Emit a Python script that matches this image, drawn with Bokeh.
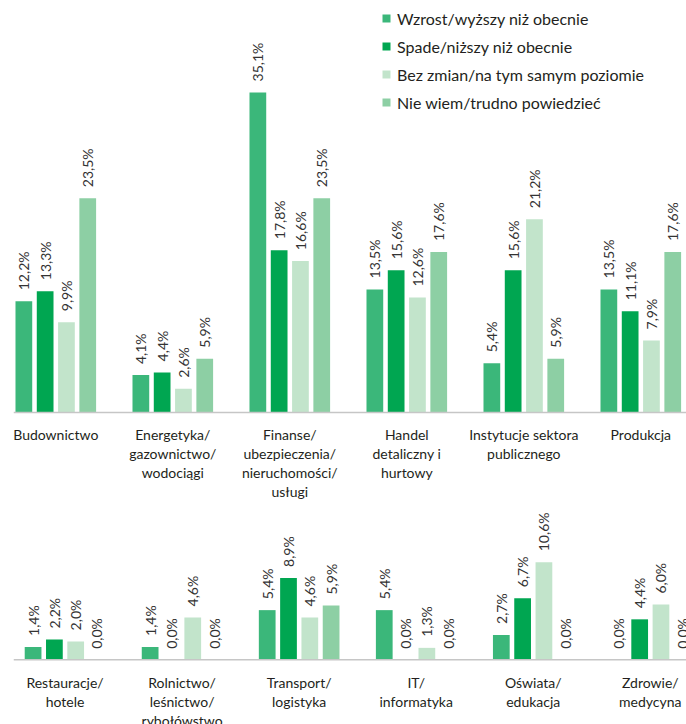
import math
from bokeh.plotting import figure
from bokeh.models import ColumnDataSource, LabelSet, Legend, LegendItem, Span
from bokeh.layouts import column
from bokeh.core.properties import value
from bokeh.embed import file_html
from bokeh.resources import INLINE

series_names = ["Wzrost/wyższy niż obecnie", "Spade/niższy niż obecnie",
                "Bez zmian/na tym samym poziomie", "Nie wiem/trudno powiedzieć"]
series_colors = ["#3bb77a", "#00a651", "#c2e4cb", "#8dcfa4"]

top_categories = ["Budownictwo", "Energetyka/\ngazownictwo/\nwodociągi",
                  "Finanse/\nubezpieczenia/\nnieruchomości/\nusługi",
                  "Handel\ndetaliczny i\nhurtowy", "Instytucje sektora\npublicznego",
                  "Produkcja"]
top_wzrost = [12.2, 4.1, 35.1, 13.5, 5.4, 13.5]
top_spade = [13.3, 4.4, 17.8, 15.6, 15.6, 11.1]
top_bez = [9.9, 2.6, 16.6, 12.6, 21.2, 7.9]
top_nie = [23.5, 5.9, 23.5, 17.6, 5.9, 17.6]

bottom_categories = ["Restauracje/\nhotele", "Rolnictwo/\nleśnictwo/\nrybołówstwo",
                     "Transport/\nlogistyka", "IT/\ninformatyka", "Oświata/\nedukacja",
                     "Zdrowie/\nmedycyna"]
bottom_wzrost = [1.4, 1.4, 5.4, 5.4, 2.7, 0.0]
bottom_spade = [2.2, 0.0, 8.9, 0.0, 6.7, 4.4]
bottom_bez = [2.0, 4.6, 4.6, 1.3, 10.6, 6.0]
bottom_nie = [0.0, 0.0, 5.9, 0.0, 0.0, 0.0]

FONT = "Lato"
STEP = 0.182
BAR_W = 0.143


def fmt(v):
    return ("%.1f" % v).replace(".", ",") + "%"


def make_panel(categories, series, height, border_left, x_range, y_range,
               first_line, legend_loc=None):
    p = figure(width=686, height=height, x_range=x_range, y_range=y_range,
               output_backend="svg", toolbar_location=None,
               min_border_left=border_left, min_border_right=0, min_border_top=0,
               min_border_bottom=0)
    p.outline_line_color = None
    p.grid.visible = False
    p.xaxis.visible = False
    p.yaxis.visible = False
    p.background_fill_color = "white"
    p.add_layout(Span(location=0, dimension="width", line_color="#c6c6c6", line_width=1.5))
    renderers = []
    n = len(categories)
    for k, vals in enumerate(series):
        xs = [i + (k - 1.5) * STEP for i in range(n)]
        src = ColumnDataSource(dict(x=xs, top=vals, text=[fmt(v) for v in vals]))
        r = p.vbar(x="x", top="top", bottom=0, width=BAR_W, source=src,
                   fill_color=series_colors[k], line_color=None)
        renderers.append(r)
        labels = LabelSet(x="x", y="top", text="text", source=src, angle=math.pi / 2,
                          text_align="left", text_baseline="middle", y_offset=11,
                          text_font=value(FONT), text_font_size="14px",
                          text_color="#333333")
        p.add_layout(labels)
    # category labels, one LabelSet per text line
    split = [c.split("\n") for c in categories]
    max_lines = max(len(s) for s in split)
    for j in range(max_lines):
        xs = [i for i in range(n) if len(split[i]) > j]
        txt = [split[i][j] for i in range(n) if len(split[i]) > j]
        src = ColumnDataSource(dict(x=xs, y=[0] * len(xs), text=txt))
        p.add_layout(LabelSet(x="x", y="y", text="text", source=src,
                              text_align="center", text_baseline="middle",
                              y_offset=-(first_line + 19 * j),
                              text_font=value(FONT), text_font_size="14px",
                              text_color="#231f20"))
    if legend_loc is not None:
        items = [LegendItem(label=series_names[k], renderers=[renderers[k]]) for k in range(4)]
        lg = Legend(items=items, location=legend_loc, orientation="vertical",
                    glyph_width=10, glyph_height=10, label_height=20, spacing=8,
                    label_standoff=6, padding=0, margin=0, border_line_color=None,
                    background_fill_alpha=0, label_text_font=FONT,
                    label_text_font_size="16px", label_text_color="#231f20")
        p.add_layout(lg)
    return p


top = make_panel(top_categories, [top_wzrost, top_spade, top_bez, top_nie],
                 500, 13, (-0.3615, 5.3906), (-9.65, 45.18), 21.5, legend_loc=(368, 388))
bottom = make_panel(bottom_categories, [bottom_wzrost, bottom_spade, bottom_bez, bottom_nie],
                    224, 7, (-0.4403, 5.309), (-7.03, 17.315), 22.5)

layout = column(top, bottom, spacing=0)
open("out.html", "w").write(file_html(layout, INLINE))
